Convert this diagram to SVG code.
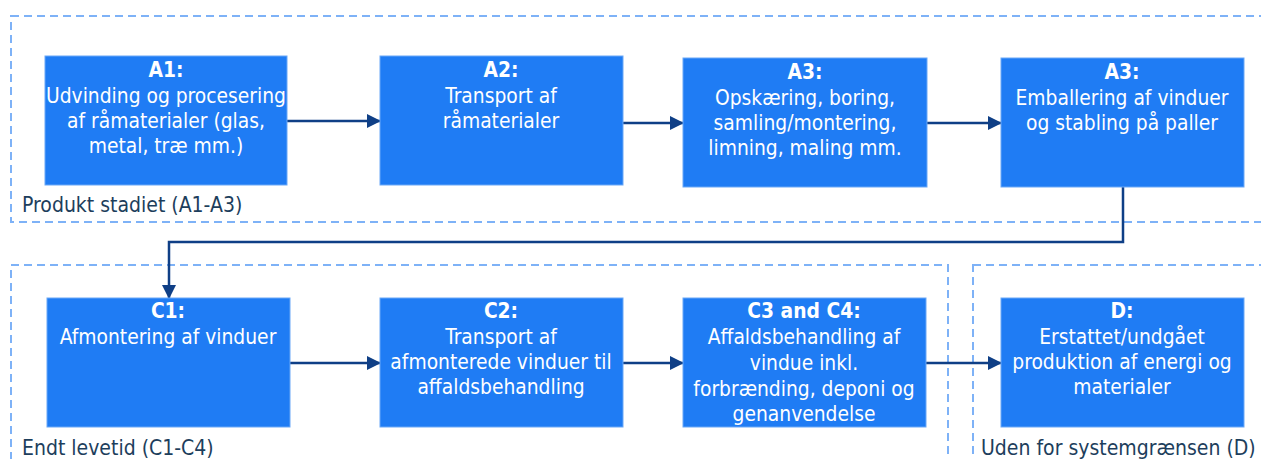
<svg xmlns="http://www.w3.org/2000/svg" width="1261" height="459" viewBox="0 0 1261 459">
<style>
.bound{fill:none;stroke:#7eb2f7;stroke-width:2;stroke-dasharray:8 5}
.box{fill:#1f7cf4;stroke:#6aa8f7;stroke-width:1}
.t{font-family:Tahoma,"DejaVu Sans Condensed","Liberation Sans",sans-serif;font-size:20.8px;fill:#ffffff;text-anchor:middle}
.h{font-weight:bold}
.lbl{font-family:Tahoma,"DejaVu Sans Condensed","Liberation Sans",sans-serif;font-size:21px;fill:#1d3e5c}
.conn{fill:none;stroke:#0f3f86;stroke-width:2.5}
</style>
<defs>
<marker id="arrB" markerWidth="14" markerHeight="14" refX="13" refY="7" orient="auto" markerUnits="userSpaceOnUse" viewBox="0 0 14 14">
<path d="M0,0 L14,7 L0,14 z" fill="#0f3f86"/>
</marker>
</defs>
<g id="boundaries">
<rect class="bound" x="11" y="16" width="1270" height="206"/>
<rect class="bound" x="11" y="265" width="937" height="220"/>
<rect class="bound" x="973" y="265" width="310" height="220"/>
<text class="lbl" x="22" y="212">Produkt stadiet (A1-A3)</text>
<text class="lbl" x="22" y="455">Endt levetid (C1-C4)</text>
<text class="lbl" x="981" y="455">Uden for systemgrænsen (D)</text>
</g>
<g id="connectors">
<line class="conn" x1="287" y1="121" x2="380" y2="121" marker-end="url(#arrB)"/>
<line class="conn" x1="623" y1="123" x2="683" y2="123" marker-end="url(#arrB)"/>
<line class="conn" x1="927" y1="123" x2="1001" y2="123" marker-end="url(#arrB)"/>
<polyline class="conn" points="1123,187 1123,242 169,242 169,298" marker-end="url(#arrB)"/>
<line class="conn" x1="290" y1="363" x2="380" y2="363" marker-end="url(#arrB)"/>
<line class="conn" x1="623" y1="363" x2="683" y2="363" marker-end="url(#arrB)"/>
<line class="conn" x1="926" y1="363" x2="1001" y2="363" marker-end="url(#arrB)"/>
</g>
<g id="A1">
<rect class="box" x="45" y="56" width="242" height="129"/>
<text class="t h" x="166" y="77">A1:</text>
<text class="t" x="166" y="103">Udvinding og procesering</text>
<text class="t" x="166" y="128">af råmaterialer (glas,</text>
<text class="t" x="166" y="153">metal, træ mm.)</text>
</g>
<g id="A2">
<rect class="box" x="380" y="56" width="243" height="129"/>
<text class="t h" x="501" y="77">A2:</text>
<text class="t" x="501" y="103">Transport af</text>
<text class="t" x="501" y="128">råmaterialer</text>
</g>
<g id="A3a">
<rect class="box" x="683" y="58" width="244" height="129"/>
<text class="t h" x="805" y="79">A3:</text>
<text class="t" x="805" y="105">Opskæring, boring,</text>
<text class="t" x="805" y="130">samling/montering,</text>
<text class="t" x="805" y="155">limning, maling mm.</text>
</g>
<g id="A3b">
<rect class="box" x="1001" y="58" width="243" height="129"/>
<text class="t h" x="1122" y="79">A3:</text>
<text class="t" x="1122" y="105">Emballering af vinduer</text>
<text class="t" x="1122" y="130">og stabling på paller</text>
</g>
<g id="C1">
<rect class="box" x="47" y="298" width="243" height="129"/>
<text class="t h" x="168" y="318">C1:</text>
<text class="t" x="168" y="344">Afmontering af vinduer</text>
</g>
<g id="C2">
<rect class="box" x="380" y="298" width="243" height="129"/>
<text class="t h" x="501" y="318">C2:</text>
<text class="t" x="501" y="344">Transport af</text>
<text class="t" x="501" y="369">afmonterede vinduer til</text>
<text class="t" x="501" y="394">affaldsbehandling</text>
</g>
<g id="C3C4">
<rect class="box" x="683" y="298" width="243" height="129"/>
<text class="t h" x="804" y="318">C3 and C4:</text>
<text class="t" x="804" y="344">Affaldsbehandling af</text>
<text class="t" x="804" y="370">vindue inkl.</text>
<text class="t" x="804" y="396">forbrænding, deponi og</text>
<text class="t" x="804" y="421">genanvendelse</text>
</g>
<g id="D">
<rect class="box" x="1001" y="298" width="243" height="129"/>
<text class="t h" x="1122" y="318">D:</text>
<text class="t" x="1122" y="344">Erstattet/undgået</text>
<text class="t" x="1122" y="369">produktion af energi og</text>
<text class="t" x="1122" y="394">materialer</text>
</g>
</svg>
